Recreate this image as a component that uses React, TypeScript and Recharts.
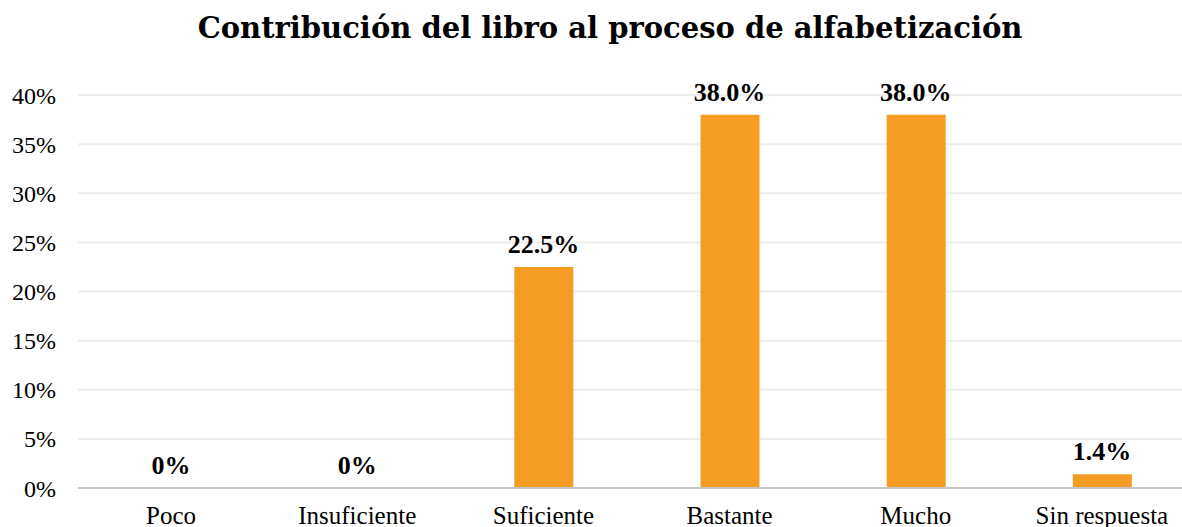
import { ComposedChart, Bar, Line, XAxis, YAxis, CartesianGrid } from 'recharts';

const categories = ['Poco', 'Insuficiente', 'Suficiente', 'Bastante', 'Mucho', 'Sin respuesta'];
const percentages = [0, 0, 22.5, 38.0, 38.0, 1.4];
const yTicks = [0, 5, 10, 15, 20, 25, 30, 35, 40];

const data = categories.map((name, i) => ({ name, value: percentages[i] }));

const serif = '"Liberation Serif", "Times New Roman", serif';
const titleFont = '"DejaVu Serif", Georgia, serif';

// zero shows as "0%", everything else with one decimal
const fmtLabel = (v: any) => (Number(v) === 0 ? '0%' : `${Number(v).toFixed(1)}%`);

// labels drawn from an invisible line so zero-height bars still get one
const TopLabel = (props: any) => {
  const { x, y, value } = props;
  return (
    <text
      x={Number(x)}
      y={Number(y) - 14}
      textAnchor="middle"
      fill="#000"
      fontSize={26}
      fontWeight="bold"
      fontFamily={serif}
    >
      {fmtLabel(value)}
    </text>
  );
};

export default function App() {
  return (
    <div
      style={{
        position: 'absolute',
        left: 0,
        top: 0,
        width: 1182,
        height: 527,
        overflow: 'hidden',
        background: '#fff',
      }}
    >
      <div
        style={{
          position: 'absolute',
          left: 0,
          top: 11,
          width: 1220,
          textAlign: 'center',
          fontFamily: titleFont,
          fontWeight: 'bold',
          fontSize: 29,
          lineHeight: '34px',
          color: '#000',
        }}
      >
        Contribución del libro al proceso de alfabetización
      </div>
      <div style={{ position: 'absolute', left: 0, top: 0 }}>
        <ComposedChart
          width={1195}
          height={540}
          data={data}
          margin={{ top: 95, right: 0, bottom: 0, left: 0 }}
          barCategoryGap={0}
        >
          <CartesianGrid vertical={false} stroke="#ededed" strokeWidth={2} />
          <XAxis
            dataKey="name"
            height={52}
            tickLine={false}
            tickSize={0}
            tickMargin={18}
            axisLine={{ stroke: '#c4c4c4', strokeWidth: 2 }}
            tick={{ fill: '#000', fontSize: 25, fontFamily: serif }}
            interval={0}
          />
          <YAxis
            width={78}
            domain={[0, 40]}
            ticks={yTicks}
            tickFormatter={(v) => `${v}%`}
            axisLine={false}
            tickLine={false}
            tickSize={0}
            tickMargin={22}
            tick={{ fill: '#000', fontSize: 24, fontFamily: serif }}
          />
          <Bar dataKey="value" fill="#F49C23" barSize={59} isAnimationActive={false} />
          <Line
            dataKey="value"
            stroke="none"
            dot={false}
            activeDot={false}
            label={TopLabel}
            isAnimationActive={false}
          />
        </ComposedChart>
      </div>
    </div>
  );
}
